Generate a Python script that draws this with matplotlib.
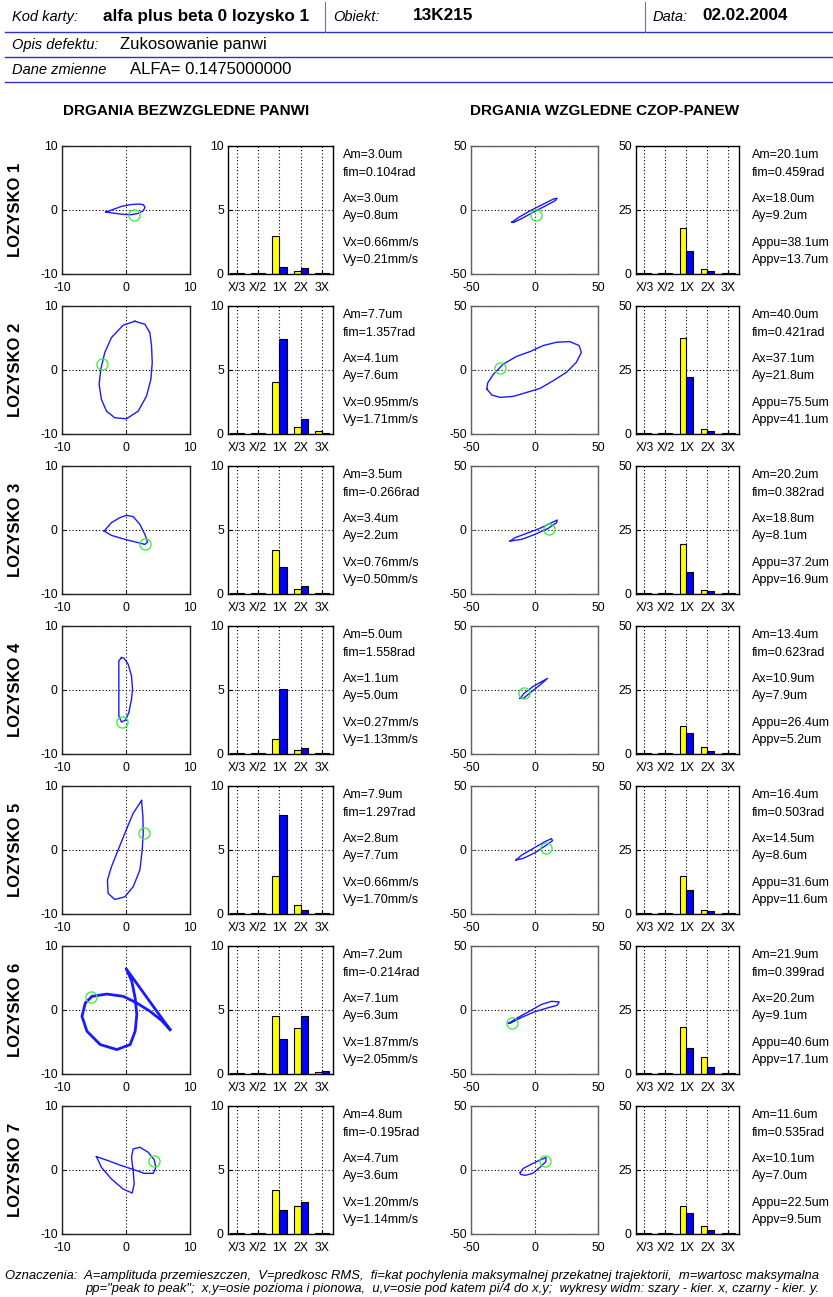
import matplotlib
matplotlib.use("Agg")
import matplotlib.pyplot as plt
import numpy as np

plt.rcParams['font.family'] = ['Liberation Sans', 'DejaVu Sans']
plt.rcParams['axes.unicode_minus'] = False

W, H = 833, 1297

# ---- header texts
kod_karty = "alfa plus beta 0 lozysko 1"
obiekt = "13K215"
data_txt = "02.02.2004"
opis = "Zukosowanie panwi"
dane = "ALFA= 0.1475000000"
title_abs = "DRGANIA BEZWZGLEDNE PANWI"
title_rel = "DRGANIA WZGLEDNE CZOP-PANEW"

# ---- orbits, absolute (um)
abs_orbit_1 = [(-3.13, -0.31), (-1.98, 0.10), (-0.68, 0.57), (0.63, 0.83), (1.93, 0.94), (2.71, 0.83),
               (2.97, 0.42), (2.71, -0.10), (1.93, -0.52), (0.89, -0.73), (-0.42, -0.68), (-1.72, -0.52)]
abs_orbit_2 = [(1.38, 7.62), (2.95, 7.15), (3.73, 5.85), (3.99, 3.76), (4.10, 1.15), (3.89, -1.46),
               (3.21, -4.07), (1.91, -6.42), (0.08, -7.62), (-1.75, -7.47), (-3.05, -6.42), (-3.84, -4.60),
               (-4.20, -2.25), (-3.94, 0.10), (-3.32, 2.72), (-2.27, 5.07), (-0.44, 7.00)]
abs_orbit_3 = [(-3.42, -0.16), (-2.27, 1.15), (-0.97, 1.93), (0.08, 2.30), (1.12, 2.09), (2.17, 0.89),
               (2.95, -0.68), (3.37, -1.88), (2.95, -2.25), (1.91, -1.98), (-0.18, -1.46), (-2.27, -0.84)]
abs_orbit_4 = [(-0.70, 5.07), (-1.12, 4.54), (-1.12, 0.10), (-1.12, -4.07), (-0.70, -5.01), (-0.08, -4.70),
               (0.44, -3.55), (0.86, -1.46), (1.02, 0.10), (0.86, 2.19), (0.34, 4.02), (-0.29, 4.96)]
abs_orbit_5 = [(2.43, 7.73), (2.64, 5.22), (2.69, 2.61), (2.53, 0.0), (2.17, -3.13), (1.12, -5.74),
               (-0.18, -7.31), (-1.75, -7.73), (-2.79, -6.79), (-2.90, -4.70), (-2.27, -2.61), (-1.23, 0.0),
               (-0.18, 2.61), (1.12, 5.74)]
abs_orbit_6 = [(6.88, -3.06), (0.03, 6.44), (0.91, 4.47), (1.43, 1.87), (1.69, -0.73), (1.43, -3.32),
               (0.65, -5.40), (-1.43, -6.18), (-4.03, -5.40), (-6.10, -3.32), (-6.88, -0.99), (-6.36, 1.09),
               (-5.32, 2.13), (-2.99, 2.49), (-0.39, 2.13), (1.69, 1.09), (3.77, -0.21), (5.58, -1.66)]
abs_orbit_7 = [(-4.62, 2.09), (-3.84, 0.42), (-2.27, -1.41), (-0.44, -2.98), (0.97, -3.60), (1.28, -2.19),
               (1.12, -0.10), (0.86, 1.98), (1.12, 3.29), (2.17, 3.55), (3.47, 2.77), (4.41, 1.57),
               (4.67, 0.42), (4.26, -0.52), (2.85, -0.52), (1.38, 0.0), (-0.70, 0.68), (-2.79, 1.46)]
abs_marker = [(1.25, -0.73), (-3.68, 0.89), (2.95, -2.14), (-0.65, -5.01), (2.79, 2.61), (-5.48, 2.03),
              (4.31, 1.36)]

# ---- orbits, relative (um)
rel_orbit_1 = [(-17.7, -9.45), (-12.5, -5.78), (-3.28, -0.53), (7.22, 4.73), (15.1, 8.66), (17.7, 9.19),
               (16.4, 7.35), (8.53, 3.15), (-0.66, -1.58), (-9.84, -6.56), (-16.4, -9.71)]
rel_orbit_2 = [(-37.5, -14.9), (-33.5, -19.6), (-27.0, -21.4), (-16.6, -20.6), (-6.1, -17.5), (4.3, -14.4),
               (14.7, -8.4), (25.2, -1.8), (33.0, 6.0), (36.9, 13.8), (35.1, 19.1), (27.8, 22.2),
               (17.4, 21.7), (6.9, 19.1), (-3.5, 14.4), (-14.0, 10.7), (-24.4, 4.7), (-32.2, -3.1),
               (-36.9, -10.2)]
rel_orbit_3 = [(-19.2, -8.6), (-15.3, -6.0), (-6.1, -2.6), (4.3, 1.3), (13.4, 5.7), (17.9, 7.8),
               (17.4, 5.7), (10.8, 1.3), (0.4, -3.4), (-10.0, -7.3)]
rel_orbit_4 = [(-11.4, -6.5), (-8.2, -2.6), (-0.9, 2.9), (10.3, 9.1), (4.3, 3.9), (-3.5, -2.3), (-8.7, -6.5)]
rel_orbit_5 = [(-14.5, -7.8), (-10.0, -3.9), (-0.9, 1.3), (8.2, 6.5), (13.4, 8.9), (14.2, 7.3),
               (9.5, 3.9), (0.4, -2.1), (-8.7, -6.5)]
rel_orbit_6 = [(-20.5, -10.4), (-12.7, -5.7), (-2.2, 0.0), (5.6, 4.4), (13.4, 6.8), (19.4, 6.3),
               (17.9, 3.7), (10.8, 1.8), (0.4, -1.3), (-10.0, -5.7), (-19.2, -10.4)]
rel_orbit_7 = [(-11.4, -2.1), (-8.7, 1.3), (-2.2, 4.7), (4.3, 7.8), (9.0, 9.7), (9.0, 6.5), (4.3, 2.1),
               (-1.4, -2.6), (-7.4, -4.2), (-10.8, -3.4)]
rel_marker = [(1.44, -3.94), (-27.0, 1.3), (11.4, 0.5), (-8.2, -2.6), (9.0, 1.3), (-17.9, -10.4), (8.5, 7.0)]

abs_orbits = [abs_orbit_1, abs_orbit_2, abs_orbit_3, abs_orbit_4, abs_orbit_5, abs_orbit_6, abs_orbit_7]
rel_orbits = [rel_orbit_1, rel_orbit_2, rel_orbit_3, rel_orbit_4, rel_orbit_5, rel_orbit_6, rel_orbit_7]

# ---- spectra: X/3, X/2, 1X, 2X, 3X  (yellow = x, blue = y)
harmonics = ["X/3", "X/2", "1X", "2X", "3X"]
abs_spec_x = [[0.05, 0.05, 3.0, 0.26, 0.05],
              [0.05, 0.05, 4.1, 0.55, 0.25],
              [0.05, 0.05, 3.4, 0.40, 0.05],
              [0.05, 0.05, 1.2, 0.35, 0.05],
              [0.05, 0.05, 3.0, 0.70, 0.05],
              [0.05, 0.05, 4.5, 3.6, 0.15],
              [0.05, 0.05, 3.4, 2.2, 0.05]]
abs_spec_y = [[0.05, 0.05, 0.57, 0.44, 0.05],
              [0.05, 0.05, 7.4, 1.2, 0.10],
              [0.05, 0.05, 2.1, 0.60, 0.05],
              [0.05, 0.05, 5.1, 0.45, 0.05],
              [0.05, 0.05, 7.7, 0.30, 0.05],
              [0.05, 0.05, 2.7, 4.5, 0.25],
              [0.05, 0.05, 1.9, 2.5, 0.05]]
rel_spec_x = [[0.3, 0.3, 17.8, 1.8, 0.3],
              [0.3, 0.3, 37.4, 1.8, 0.3],
              [0.3, 0.3, 19.4, 1.6, 0.3],
              [0.3, 0.3, 10.9, 2.6, 0.3],
              [0.3, 0.3, 14.8, 1.5, 0.3],
              [0.3, 0.3, 18.4, 6.6, 0.3],
              [0.3, 0.3, 10.9, 3.1, 0.3]]
rel_spec_y = [[0.3, 0.3, 9.1, 1.0, 0.3],
              [0.3, 0.3, 22.4, 1.2, 0.3],
              [0.3, 0.3, 8.7, 1.0, 0.3],
              [0.3, 0.3, 8.3, 1.2, 0.3],
              [0.3, 0.3, 9.4, 1.0, 0.3],
              [0.3, 0.3, 10.2, 2.7, 0.3],
              [0.3, 0.3, 8.2, 1.5, 0.3]]

# ---- side texts
abs_am = ["3.0", "7.7", "3.5", "5.0", "7.9", "7.2", "4.8"]
abs_fim = ["0.104", "1.357", "-0.266", "1.558", "1.297", "-0.214", "-0.195"]
abs_ax = ["3.0", "4.1", "3.4", "1.1", "2.8", "7.1", "4.7"]
abs_ay = ["0.8", "7.6", "2.2", "5.0", "7.7", "6.3", "3.6"]
abs_vx = ["0.66", "0.95", "0.76", "0.27", "0.66", "1.87", "1.20"]
abs_vy = ["0.21", "1.71", "0.50", "1.13", "1.70", "2.05", "1.14"]
rel_am = ["20.1", "40.0", "20.2", "13.4", "16.4", "21.9", "11.6"]
rel_fim = ["0.459", "0.421", "0.382", "0.623", "0.503", "0.399", "0.535"]
rel_ax = ["18.0", "37.1", "18.8", "10.9", "14.5", "20.2", "10.1"]
rel_ay = ["9.2", "21.8", "8.1", "7.9", "8.6", "9.1", "7.0"]
rel_appu = ["38.1", "75.5", "37.2", "26.4", "31.6", "40.6", "22.5"]
rel_appv = ["13.7", "41.1", "16.9", "5.2", "11.6", "17.1", "9.5"]

note_1 = ("Oznaczenia:  A=amplituda przemieszczen,  V=predkosc RMS,  fi=kat pochylenia maksymalnej "
          "przekatnej trajektorii,  m=wartosc maksymalna")
note_2 = ("pp=\"peak to peak\";  x,y=osie pozioma i pionowa,  u,v=osie pod katem pi/4 do x,y;  "
          "wykresy widm: szary - kier. x, czarny - kier. y.")

fig = plt.figure(figsize=(W / 100, H / 100), dpi=100)


def ax_px(x0, y0, x1, y1):
    return fig.add_axes([x0 / W, 1 - y1 / H, (x1 - x0) / W, (y1 - y0) / H])


def fx(x):
    return x / W


def fy(y):
    return 1 - y / H


# header
line_col = '#3030c8'
for y in [32, 57, 82]:
    fig.add_artist(plt.Line2D([fx(5), fx(833)], [fy(y), fy(y)], color=line_col, lw=1.0))
for x in [325, 645]:
    fig.add_artist(plt.Line2D([fx(x), fx(x)], [fy(2), fy(32)], color='#7070b0', lw=0.8))

hs = 10.5
vs = 12.3
fig.text(fx(12), fy(17), "Kod karty:", style='italic', fontsize=hs, va='center')
fig.text(fx(103), fy(16), kod_karty, weight='bold', fontsize=vs, va='center')
fig.text(fx(333), fy(17), "Obiekt:", style='italic', fontsize=hs, va='center')
fig.text(fx(413), fy(16), obiekt, weight='bold', fontsize=vs, va='center')
fig.text(fx(653), fy(17), "Data:", style='italic', fontsize=hs, va='center')
fig.text(fx(702), fy(16), data_txt, weight='bold', fontsize=vs, va='center')
fig.text(fx(12), fy(45), "Opis defektu:", style='italic', fontsize=hs, va='center')
fig.text(fx(120), fy(44), opis, fontsize=12, va='center')
fig.text(fx(12), fy(70), "Dane zmienne", style='italic', fontsize=hs, va='center')
fig.text(fx(130), fy(69), dane, fontsize=12, va='center')

fig.text(fx(186), fy(111), title_abs, weight='bold', fontsize=11, ha='center', va='center')
fig.text(fx(605), fy(111), title_rel, weight='bold', fontsize=11, ha='center', va='center')


def style_orbit(ax, lim, frame):
    ax.set_xlim(-lim, lim)
    ax.set_ylim(-lim, lim)
    ax.set_xticks([-lim, 0, lim])
    ax.set_yticks([-lim, 0, lim])
    ax.grid(True, color='black', linestyle=(0, (1, 2)), lw=0.8)
    ax.tick_params(direction='in', length=3, labelsize=8.8, color=frame)
    ax.tick_params(axis='x', pad=6)
    ax.tick_params(axis='y', pad=3)
    for s in ax.spines.values():
        s.set_color(frame)
        s.set_linewidth(1.0)


def style_bars(ax, top):
    pos = np.arange(1, 6)
    ax.set_xlim(0.6, 5.5)
    ax.set_ylim(0, top)
    ax.set_xticks(pos)
    ax.set_xticklabels(harmonics)
    ax.set_yticks([0, top / 2, top])
    ax.set_yticklabels(['0', f'{top / 2:g}', f'{top:g}'])
    ax.grid(True, color='black', linestyle=(0, (1, 2)), lw=0.8)
    ax.set_axisbelow(True)
    ax.tick_params(direction='in', length=3, labelsize=8.8)
    ax.tick_params(axis='x', pad=6)
    ax.tick_params(axis='y', pad=3)
    for s in ax.spines.values():
        s.set_linewidth(1.0)


bw = 0.33
pos = np.arange(1, 6)
ts = 9
for i in range(7):
    T = 146 + 160 * i
    B = T + 128

    fig.text(fx(16), fy(T + 64), f"LOZYSKO {i + 1}", weight='bold', fontsize=12,
             rotation=90, ha='center', va='center')

    # absolute orbit
    ax = ax_px(62, T, 190, B)
    pts = np.array(abs_orbits[i] + [abs_orbits[i][0]])
    ax.plot(pts[:, 0], pts[:, 1], color='#1a1aff', lw=2.0 if i == 5 else 1.0)
    ax.plot(*abs_marker[i], 'o', mfc='none', mec='#33ee33', ms=8, mew=0.9)
    style_orbit(ax, 10, '#202020')

    # absolute spectrum
    ax = ax_px(228, T, 333, B)
    ax.bar(pos - bw / 2, abs_spec_x[i], width=bw, color='#ffff00', edgecolor='black', lw=0.8)
    ax.bar(pos + bw / 2, abs_spec_y[i], width=bw, color='#0000ff', edgecolor='black', lw=0.8)
    style_bars(ax, 10)

    tx = fx(343)
    fig.text(tx, fy(T + 9), f"Am={abs_am[i]}um", fontsize=ts, va='center')
    fig.text(tx, fy(T + 27), f"fim={abs_fim[i]}rad", fontsize=ts, va='center')
    fig.text(tx, fy(T + 53), f"Ax={abs_ax[i]}um", fontsize=ts, va='center')
    fig.text(tx, fy(T + 70), f"Ay={abs_ay[i]}um", fontsize=ts, va='center')
    fig.text(tx, fy(T + 97), f"Vx={abs_vx[i]}mm/s", fontsize=ts, va='center')
    fig.text(tx, fy(T + 114), f"Vy={abs_vy[i]}mm/s", fontsize=ts, va='center')

    # relative orbit
    ax = ax_px(471, T, 598, B)
    pts = np.array(rel_orbits[i] + [rel_orbits[i][0]])
    ax.plot(pts[:, 0], pts[:, 1], color='#1a1aff', lw=1.0)
    ax.plot(*rel_marker[i], 'o', mfc='none', mec='#33ee33', ms=8, mew=0.9)
    style_orbit(ax, 50, '#606060')

    # relative spectrum
    ax = ax_px(636, T, 739, B)
    ax.bar(pos - bw / 2, rel_spec_x[i], width=bw, color='#ffff00', edgecolor='black', lw=0.8)
    ax.bar(pos + bw / 2, rel_spec_y[i], width=bw, color='#0000ff', edgecolor='black', lw=0.8)
    style_bars(ax, 50)

    tx = fx(752)
    fig.text(tx, fy(T + 9), f"Am={rel_am[i]}um", fontsize=ts, va='center')
    fig.text(tx, fy(T + 27), f"fim={rel_fim[i]}rad", fontsize=ts, va='center')
    fig.text(tx, fy(T + 53), f"Ax={rel_ax[i]}um", fontsize=ts, va='center')
    fig.text(tx, fy(T + 70), f"Ay={rel_ay[i]}um", fontsize=ts, va='center')
    fig.text(tx, fy(T + 97), f"Appu={rel_appu[i]}um", fontsize=ts, va='center')
    fig.text(tx, fy(T + 114), f"Appv={rel_appv[i]}um", fontsize=ts, va='center')

fig.text(fx(5), fy(1276), note_1, style='italic', fontsize=9.4, va='center')
fig.text(fx(85), fy(1289), note_2, style='italic', fontsize=9.4, va='center')

fig.savefig("out.png", dpi=100)
